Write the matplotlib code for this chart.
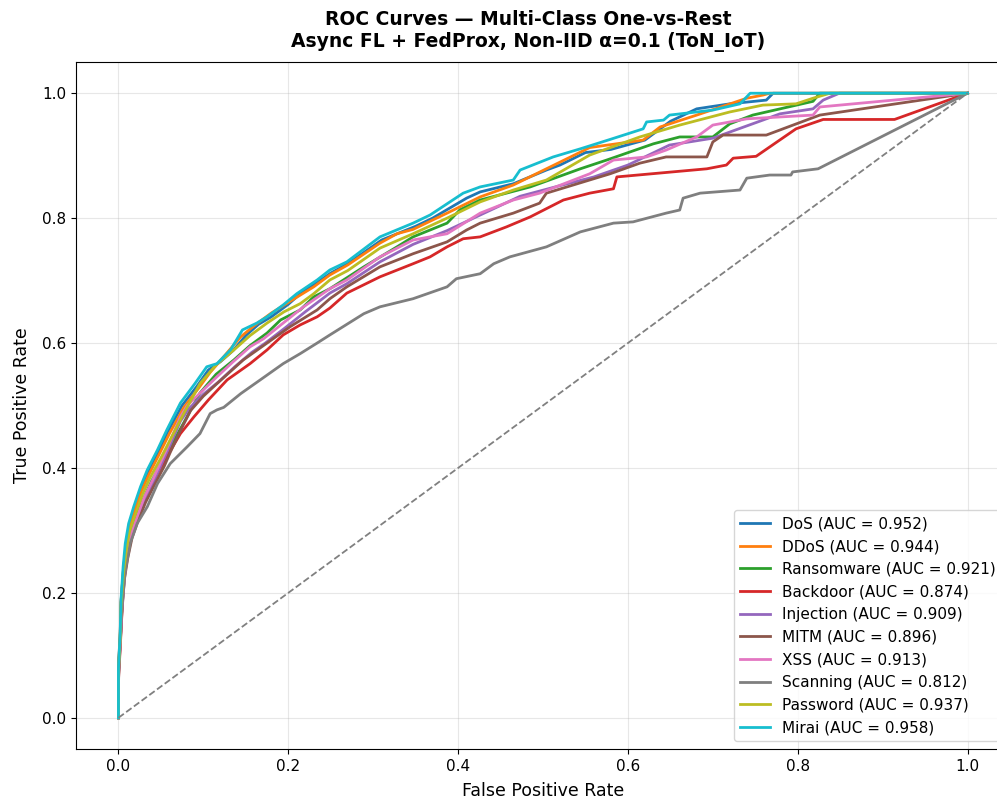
import matplotlib
matplotlib.use("Agg")
from matplotlib import pyplot as plt

# ROC curves (fpr, tpr) for each class
class_names = ["DoS", "DDoS", "Ransomware", "Backdoor", "Injection",
               "MITM", "XSS", "Scanning", "Password", "Mirai"]
auc_values = [0.952, 0.944, 0.921, 0.874, 0.909, 0.896, 0.913, 0.812, 0.937, 0.958]
colors = ["#1f77b4", "#ff7f0e", "#2ca02c", "#d62728", "#9467bd",
          "#8c564b", "#e377c2", "#7f7f7f", "#bcbd22", "#17becf"]

dos_fpr = [0, 0, 0.002, 0.003, 0.006, 0.009, 0.013, 0.019, 0.027, 0.035, 0.047, 0.058, 0.075, 0.092,
           0.106, 0.12, 0.135, 0.15, 0.165, 0.18, 0.2, 0.215, 0.235, 0.25, 0.27, 0.31, 0.35, 0.37,
           0.41, 0.426, 0.465, 0.504, 0.52, 0.55, 0.58, 0.62, 0.65, 0.681, 0.72, 0.763, 0.771, 1.0]
dos_tpr = [0, 0.08, 0.13, 0.185, 0.24, 0.275, 0.308, 0.335, 0.367, 0.394, 0.426, 0.458, 0.5, 0.53,
           0.557, 0.57, 0.588, 0.612, 0.63, 0.642, 0.662, 0.68, 0.698, 0.712, 0.727, 0.765, 0.787, 0.8,
           0.832, 0.842, 0.855, 0.877, 0.885, 0.905, 0.91, 0.925, 0.955, 0.975, 0.983, 0.989, 1.0, 1.0]

ddos_fpr = [0, 0, 0.002, 0.003, 0.006, 0.009, 0.013, 0.019, 0.027, 0.036, 0.048, 0.06, 0.077, 0.094,
            0.108, 0.122, 0.144, 0.16, 0.18, 0.2, 0.23, 0.249, 0.27, 0.308, 0.328, 0.347, 0.387, 0.426,
            0.465, 0.516, 0.555, 0.618, 0.638, 0.681, 0.74, 0.759, 0.767, 1.0]
ddos_tpr = [0, 0.08, 0.13, 0.185, 0.238, 0.272, 0.305, 0.332, 0.363, 0.39, 0.422, 0.455, 0.497, 0.527,
            0.553, 0.575, 0.61, 0.628, 0.648, 0.665, 0.69, 0.709, 0.725, 0.76, 0.775, 0.782, 0.808, 0.834,
            0.853, 0.887, 0.913, 0.925, 0.946, 0.965, 0.992, 0.997, 1.0, 1.0]

ransom_fpr = [0, 0, 0.002, 0.004, 0.006, 0.009, 0.014, 0.021, 0.03, 0.039, 0.052, 0.065, 0.08, 0.096,
              0.115, 0.136, 0.155, 0.175, 0.191, 0.214, 0.23, 0.249, 0.289, 0.328, 0.347, 0.387, 0.402,
              0.426, 0.485, 0.544, 0.575, 0.63, 0.661, 0.70, 0.72, 0.747, 0.818, 0.826, 1.0]
ransom_tpr = [0, 0.075, 0.12, 0.175, 0.228, 0.262, 0.295, 0.322, 0.352, 0.379, 0.411, 0.443, 0.48, 0.52,
              0.55, 0.573, 0.596, 0.616, 0.637, 0.653, 0.674, 0.687, 0.722, 0.754, 0.770, 0.792, 0.813,
              0.829, 0.850, 0.879, 0.893, 0.919, 0.930, 0.930, 0.951, 0.965, 0.987, 1.0, 1.0]

backdoor_fpr = [0, 0, 0.002, 0.004, 0.006, 0.012, 0.020, 0.030, 0.042, 0.057, 0.073, 0.089, 0.106, 0.128,
                0.155, 0.175, 0.194, 0.214, 0.234, 0.249, 0.269, 0.308, 0.347, 0.367, 0.387, 0.406, 0.426,
                0.457, 0.485, 0.524, 0.555, 0.583, 0.587, 0.693, 0.716, 0.724, 0.751, 0.798, 0.830, 0.914, 1.0]
backdoor_tpr = [0, 0.06, 0.11, 0.165, 0.225, 0.279, 0.311, 0.349, 0.381, 0.418, 0.455, 0.482, 0.509, 0.541,
                0.567, 0.589, 0.613, 0.629, 0.642, 0.656, 0.680, 0.706, 0.727, 0.738, 0.754, 0.767, 0.770,
                0.786, 0.802, 0.829, 0.840, 0.847, 0.866, 0.879, 0.885, 0.896, 0.899, 0.943, 0.958, 0.958, 1.0]

inject_fpr = [0, 0, 0.002, 0.004, 0.007, 0.01, 0.015, 0.022, 0.03, 0.04, 0.05, 0.06, 0.073, 0.083, 0.1,
              0.118, 0.137, 0.157, 0.173, 0.196, 0.22, 0.249, 0.269, 0.308, 0.347, 0.387, 0.426, 0.473,
              0.52, 0.56, 0.6, 0.649, 0.70, 0.759, 0.779, 0.818, 0.830, 0.849, 1.0]
inject_tpr = [0, 0.07, 0.118, 0.172, 0.225, 0.258, 0.29, 0.317, 0.347, 0.374, 0.404, 0.434, 0.475, 0.495,
              0.518, 0.538, 0.562, 0.585, 0.6, 0.624, 0.65, 0.68, 0.695, 0.73, 0.758, 0.78, 0.805, 0.835,
              0.852, 0.866, 0.885, 0.917, 0.928, 0.957, 0.967, 0.975, 0.989, 1.0, 1.0]

mitm_fpr = [0, 0, 0.002, 0.004, 0.007, 0.011, 0.016, 0.023, 0.032, 0.042, 0.054, 0.061, 0.073, 0.085,
            0.1, 0.116, 0.147, 0.175, 0.202, 0.234, 0.249, 0.269, 0.308, 0.347, 0.387, 0.41, 0.426, 0.465,
            0.496, 0.504, 0.579, 0.614, 0.645, 0.693, 0.70, 0.712, 0.763, 0.826, 1.0]
mitm_tpr = [0, 0.065, 0.115, 0.168, 0.222, 0.256, 0.288, 0.315, 0.345, 0.372, 0.403, 0.425, 0.46, 0.492,
            0.515, 0.535, 0.573, 0.600, 0.626, 0.653, 0.671, 0.690, 0.722, 0.743, 0.762, 0.781, 0.792, 0.808,
            0.824, 0.840, 0.871, 0.888, 0.898, 0.898, 0.922, 0.933, 0.933, 0.965, 1.0]

xss_fpr = [0, 0, 0.002, 0.004, 0.007, 0.01, 0.015, 0.022, 0.03, 0.04, 0.05, 0.06, 0.073, 0.081, 0.1,
           0.116, 0.135, 0.155, 0.171, 0.194, 0.218, 0.249, 0.269, 0.308, 0.347, 0.387, 0.426, 0.465,
           0.496, 0.555, 0.583, 0.622, 0.645, 0.681, 0.70, 0.74, 0.818, 0.826, 1.0]
xss_tpr = [0, 0.07, 0.12, 0.175, 0.228, 0.262, 0.295, 0.322, 0.352, 0.38, 0.41, 0.44, 0.482, 0.5, 0.525,
           0.546, 0.57, 0.594, 0.607, 0.632, 0.658, 0.687, 0.701, 0.738, 0.765, 0.775, 0.808, 0.829,
           0.840, 0.871, 0.893, 0.898, 0.909, 0.930, 0.949, 0.959, 0.965, 0.978, 1.0]

scan_fpr = [0, 0, 0.001, 0.004, 0.008, 0.014, 0.022, 0.034, 0.046, 0.061, 0.081, 0.096, 0.108, 0.116,
            0.124, 0.144, 0.167, 0.194, 0.214, 0.234, 0.249, 0.289, 0.308, 0.347, 0.387, 0.398, 0.426,
            0.442, 0.461, 0.504, 0.544, 0.583, 0.606, 0.645, 0.661, 0.665, 0.685, 0.732, 0.740, 0.767,
            0.792, 0.794, 0.824, 1.0]
scan_tpr = [0, 0.05, 0.109, 0.175, 0.235, 0.28, 0.311, 0.338, 0.375, 0.407, 0.434, 0.455, 0.487, 0.493,
            0.497, 0.519, 0.541, 0.567, 0.583, 0.600, 0.613, 0.647, 0.658, 0.671, 0.690, 0.703, 0.711,
            0.727, 0.738, 0.754, 0.778, 0.792, 0.794, 0.808, 0.813, 0.832, 0.840, 0.845, 0.864, 0.869,
            0.869, 0.874, 0.879, 1.0]

pwd_fpr = [0, 0, 0.002, 0.003, 0.006, 0.009, 0.013, 0.02, 0.028, 0.037, 0.05, 0.062, 0.078, 0.096,
           0.115, 0.136, 0.155, 0.175, 0.195, 0.214, 0.23, 0.249, 0.27, 0.308, 0.347, 0.387, 0.426, 0.465,
           0.504, 0.555, 0.614, 0.661, 0.72, 0.759, 0.798, 0.818, 0.838, 1.0]
pwd_tpr = [0, 0.075, 0.125, 0.18, 0.232, 0.266, 0.298, 0.326, 0.357, 0.384, 0.416, 0.448, 0.49, 0.535,
           0.565, 0.589, 0.612, 0.632, 0.65, 0.663, 0.679, 0.701, 0.716, 0.752, 0.775, 0.8, 0.826, 0.845,
           0.861, 0.901, 0.930, 0.949, 0.970, 0.981, 0.983, 0.992, 1.0, 1.0]

mirai_fpr = [0, 0, 0.002, 0.003, 0.0055, 0.008, 0.012, 0.018, 0.026, 0.034, 0.046, 0.057, 0.073, 0.09,
             0.104, 0.116, 0.132, 0.146, 0.163, 0.175, 0.194, 0.21, 0.234, 0.249, 0.269, 0.308, 0.347,
             0.367, 0.406, 0.426, 0.465, 0.473, 0.512, 0.544, 0.579, 0.618, 0.622, 0.642, 0.649, 0.681,
             0.70, 0.732, 0.744, 1.0]
mirai_tpr = [0, 0.08, 0.135, 0.189, 0.242, 0.279, 0.311, 0.338, 0.370, 0.397, 0.429, 0.461, 0.504, 0.535,
             0.562, 0.567, 0.589, 0.621, 0.632, 0.642, 0.661, 0.679, 0.701, 0.717, 0.730, 0.770, 0.792,
             0.805, 0.840, 0.850, 0.861, 0.877, 0.898, 0.911, 0.926, 0.943, 0.954, 0.957, 0.965, 0.970,
             0.973, 0.983, 1.0, 1.0]

all_fpr = [dos_fpr, ddos_fpr, ransom_fpr, backdoor_fpr, inject_fpr,
           mitm_fpr, xss_fpr, scan_fpr, pwd_fpr, mirai_fpr]
all_tpr = [dos_tpr, ddos_tpr, ransom_tpr, backdoor_tpr, inject_tpr,
           mitm_tpr, xss_tpr, scan_tpr, pwd_tpr, mirai_tpr]

fig = plt.figure(figsize=(9.97, 8), dpi=100)
# axes runs a little past the right edge of the picture, like the reference
ax = fig.add_axes([76 / 997, 51 / 800, 934 / 997, 687 / 800])

for name, auc, c, fpr, tpr in zip(class_names, auc_values, colors, all_fpr, all_tpr):
    ax.plot(fpr, tpr, color=c, lw=2, label=f"{name} (AUC = {auc:.3f})")

ax.plot([0, 1], [0, 1], "--", color="gray", lw=1.3)

ax.set_xlim(-0.05, 1.05)
ax.set_ylim(-0.05, 1.05)
ax.set_xlabel("False Positive Rate", fontsize=12.5, labelpad=6)
ax.set_ylabel("True Positive Rate", fontsize=12.5, labelpad=8)
ax.tick_params(labelsize=11)
ax.grid(True, alpha=0.3)
ax.legend(loc="lower right", fontsize=11)

fig.text(528 / 997, 1 - 31 / 800,
         "ROC Curves \u2014 Multi-Class One-vs-Rest\nAsync FL + FedProx, Non-IID \u03b1=0.1 (ToN_IoT)",
         ha="center", va="center", fontsize=13.5, fontweight="bold", linespacing=1.2)

fig.savefig("out.png", dpi=100)
